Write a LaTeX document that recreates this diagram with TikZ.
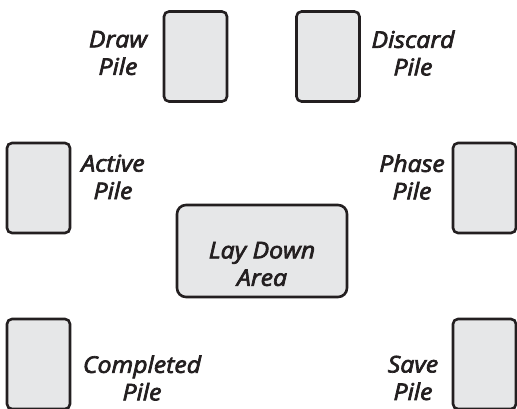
\documentclass[tikz,border=0pt]{standalone}
\usepackage{fontspec}
\setmainfont{Open Sans}
\newfontfamily\pilefont{Open Sans}[FakeBold=3, FakeStretch=1.08]
\definecolor{cardfill}{HTML}{E6E7E8}
\definecolor{cardedge}{HTML}{231F20}
\tikzset{
  card/.style={draw=cardedge, fill=cardfill, line width=2.6pt, rounded corners=5pt,
    minimum width=63pt, minimum height=90pt, inner sep=0pt, outer sep=0pt},
  area/.style={card, rounded corners=9pt, minimum width=170pt, minimum height=92pt},
  label/.style={align=center, font=\pilefont\itshape\fontsize{23}{27.5}\selectfont,
    text=cardedge, inner sep=0pt}
}
\begin{document}
\begin{tikzpicture}[x=1pt, y=-1pt]
  \useasboundingbox (0,0) rectangle (517,409);
  \clip (0,0) rectangle (517,409);
  % piles
  \node[card] (draw)      at (195.5,56.5) {};
  \node[card] (discard)   at (328,56.5) {};
  \node[card] (active)    at (38.5,188) {};
  \node[card] (phase)     at (484.5,188) {};
  \node[card] (completed) at (38.5,364) {};
  \node[card] (save)      at (484.5,364) {};
  % central area and its caption, set a little below centre
  \node[area] (laydown)   at (262,251) {};
  \node[label] (laydownlbl) at (262,264) {Lay Down\\Area};
  % pile names
  \node[label] (drawlbl)      at (118,53) {Draw\\Pile};
  \node[label] (discardlbl)   at (413,53) {Discard\\Pile};
  \node[label] (activelbl)    at (113,177) {Active\\Pile};
  \node[label] (phaselbl)     at (412,177) {Phase\\Pile};
  \node[label] (completedlbl) at (142,378) {Completed\\Pile};
  \node[label] (savelbl)      at (413,378) {Save\\Pile};
\end{tikzpicture}
\end{document}
